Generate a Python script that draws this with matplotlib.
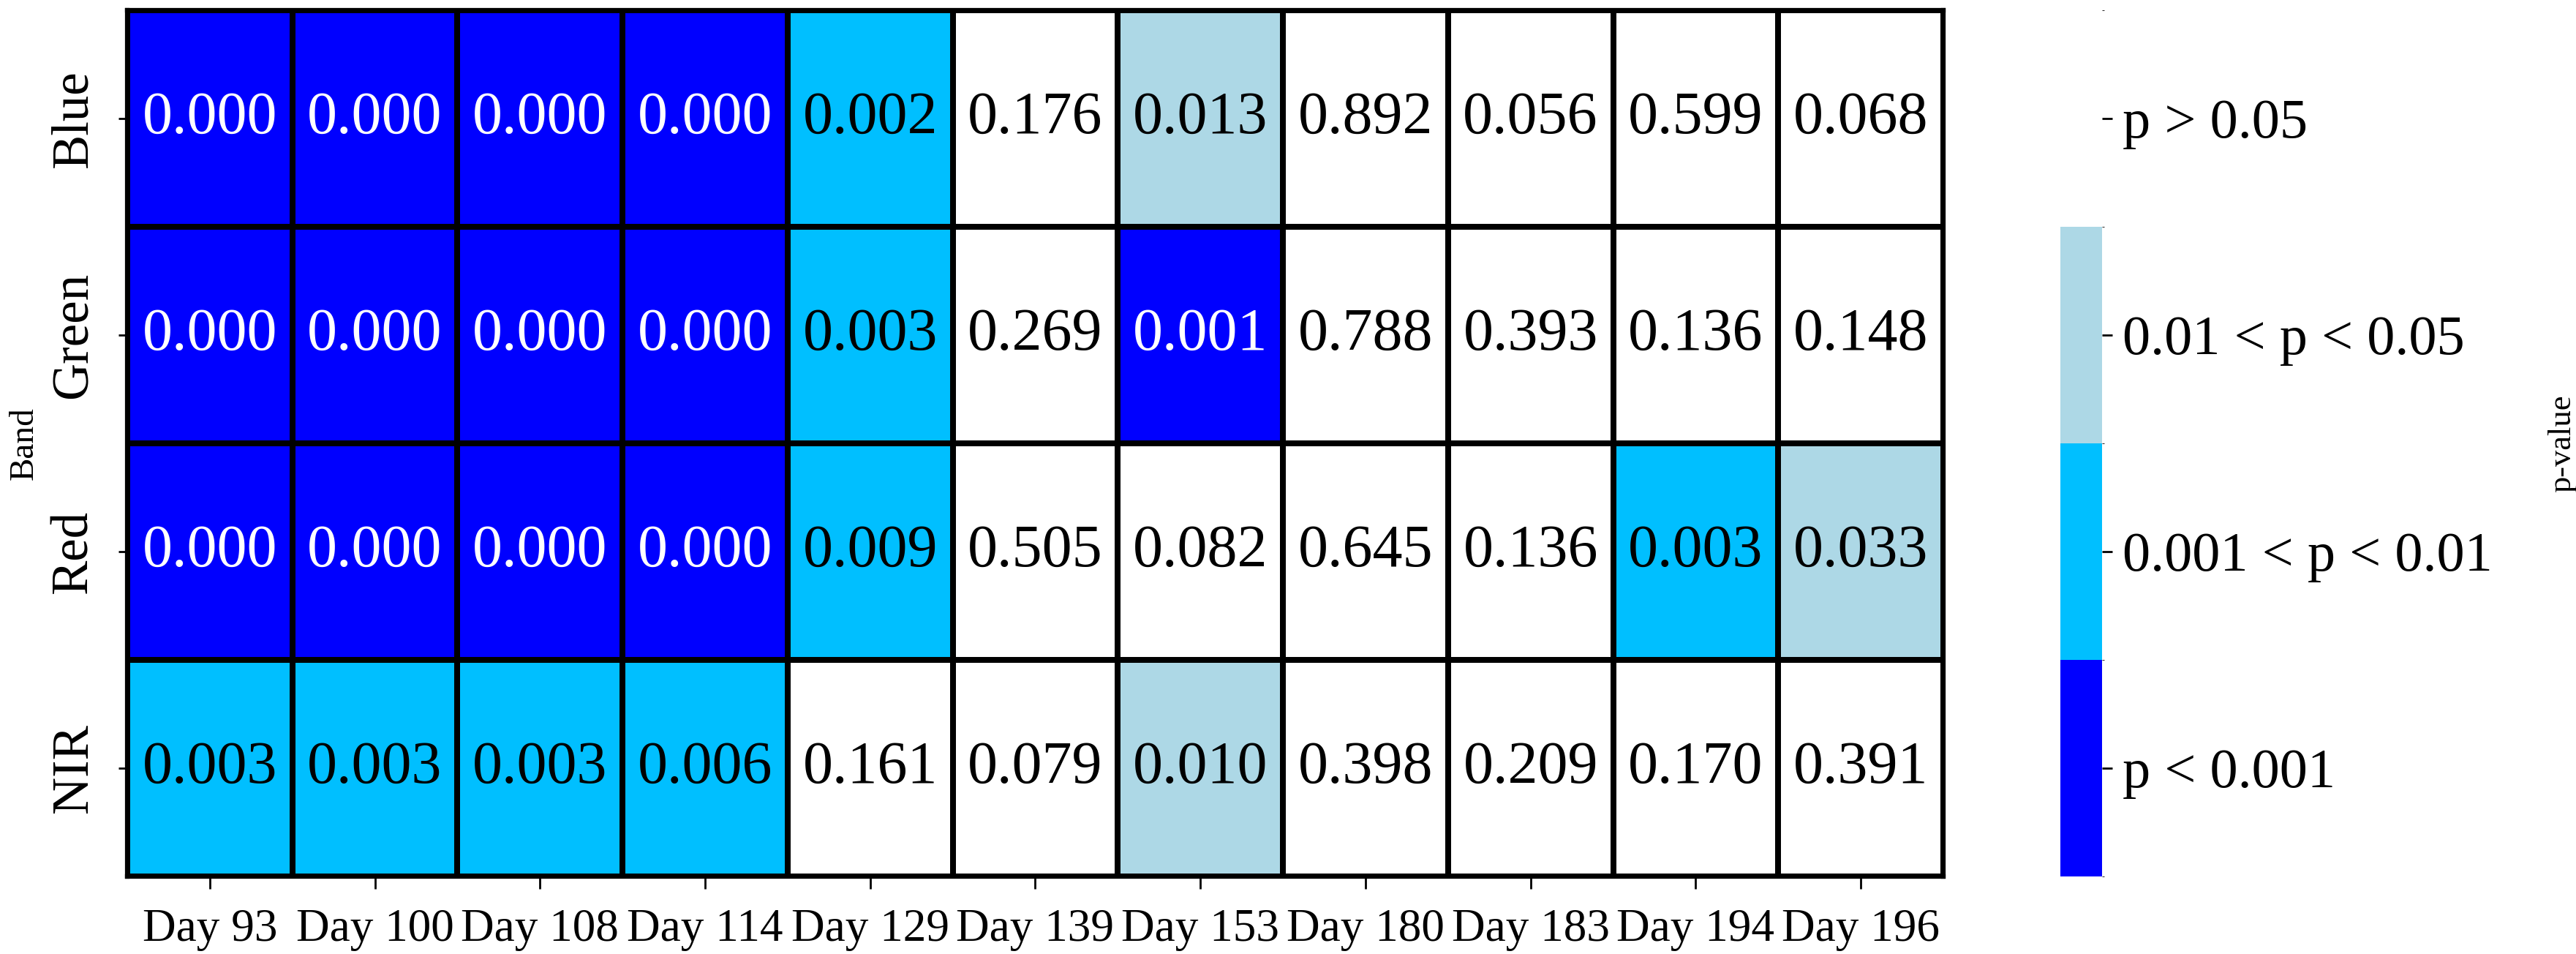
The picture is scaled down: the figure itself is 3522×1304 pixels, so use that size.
import numpy as np
import matplotlib
matplotlib.use("Agg")
import matplotlib.pyplot as plt
from matplotlib.colors import ListedColormap, BoundaryNorm

# ---------------- data ----------------
bands = ["Blue", "Green", "Red", "NIR"]
days = ["Day 93", "Day 100", "Day 108", "Day 114", "Day 129", "Day 139",
        "Day 153", "Day 180", "Day 183", "Day 194", "Day 196"]
blue_p = [0.000, 0.000, 0.000, 0.000, 0.002, 0.176, 0.013, 0.892, 0.056, 0.599, 0.068]
green_p = [0.000, 0.000, 0.000, 0.000, 0.003, 0.269, 0.001, 0.788, 0.393, 0.136, 0.148]
red_p = [0.000, 0.000, 0.000, 0.000, 0.009, 0.505, 0.082, 0.645, 0.136, 0.003, 0.033]
nir_p = [0.003, 0.003, 0.003, 0.006, 0.161, 0.079, 0.010, 0.398, 0.209, 0.170, 0.391]
category_labels = ["p < 0.001", "0.001 < p < 0.01", "0.01 < p < 0.05", "p > 0.05"]
category_colors = ["#0000FF", "#00BFFF", "#ADD8E6", "#FFFFFF"]

plt.rcParams['font.family'] = ['Liberation Serif', 'DejaVu Serif']

pvals = np.array([blue_p, green_p, red_p, nir_p])
cat = np.select([pvals <= 0.001, pvals < 0.01, pvals < 0.05], [0, 1, 2], default=3)

cmap = ListedColormap(category_colors)
norm = BoundaryNorm([-0.5, 0.5, 1.5, 2.5, 3.5], cmap.N)

W, H = 3523, 1304
fig = plt.figure(figsize=(W / 100, H / 100), dpi=100)

left, right, top, bottom = 174, 2657, 14, 1198
ax = fig.add_axes([left / W, 1 - bottom / H, (right - left) / W, (bottom - top) / H])
mesh = ax.pcolormesh(cat, cmap=cmap, norm=norm, edgecolors='black', linewidth=4.5)
ax.set_xlim(0, len(days))
ax.set_ylim(len(bands), 0)

for i in range(len(bands)):
    for j in range(len(days)):
        c = cat[i, j]
        ax.text(j + 0.5, i + 0.5, f"{pvals[i, j]:.3f}", ha='center', va='center',
                fontsize=59, color='white' if c == 0 else 'black')

ax.set_xticks(np.arange(len(days)) + 0.5)
ax.set_xticklabels(days, fontsize=45.5)
ax.set_yticks(np.arange(len(bands)) + 0.5)
ax.set_yticklabels(bands, fontsize=51, rotation=90, va='center')
ax.tick_params(axis='x', length=12, width=2, pad=20)
ax.tick_params(axis='y', length=9, width=2, pad=20)
ax.set_ylabel("Band", fontsize=34, labelpad=10)
for s in ax.spines.values():
    s.set_linewidth(4.5)

cx0, cx1 = 2817, 2874
cax = fig.add_axes([cx0 / W, 1 - bottom / H, (cx1 - cx0) / W, (bottom - top) / H])
cb = fig.colorbar(mesh, cax=cax, ticks=[0, 1, 2, 3])
cb.set_ticklabels(category_labels)
cb.outline.set_visible(False)
cax.tick_params(length=10, width=2, pad=10, labelsize=55)
cb.set_label("p-value", fontsize=32)
cax.yaxis.set_label_coords((3483 - cx0) / (cx1 - cx0), 0.5)

fig.savefig("out.png", dpi=100)
